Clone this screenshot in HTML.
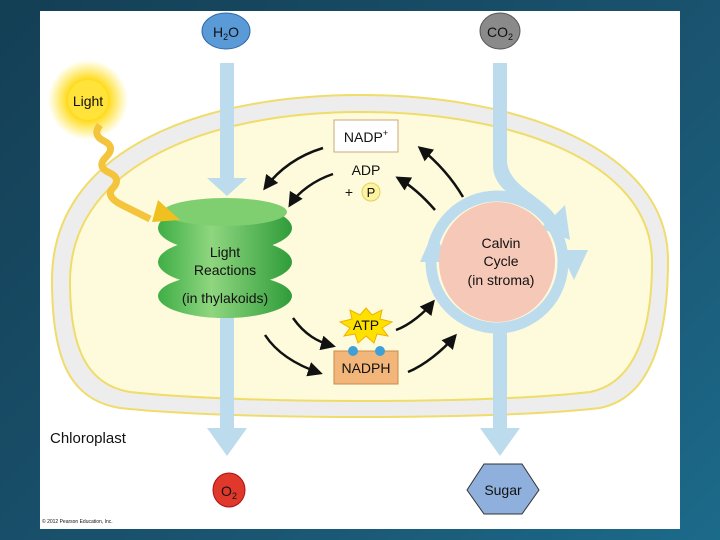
<!DOCTYPE html>
<html><head><style>
body{margin:0;width:720px;height:540px;overflow:hidden;background:linear-gradient(135deg,#143f55,#1a5470 60%,#1c6a8a);}
svg{position:absolute;left:0;top:0}
text{font-family:"Liberation Sans",sans-serif;fill:#111}
</style></head><body>
<svg width="720" height="540" viewBox="0 0 720 540">
<defs>
<radialGradient id="sun"><stop offset="0" stop-color="#fff27a"/><stop offset="0.45" stop-color="#ffd400"/><stop offset="1" stop-color="#ffe000" stop-opacity="0"/></radialGradient>
<linearGradient id="grn" x1="0" y1="0" x2="1" y2="0"><stop offset="0" stop-color="#3fae45"/><stop offset="0.4" stop-color="#8fd67f"/><stop offset="1" stop-color="#2f9c3a"/></linearGradient>
<marker id="ah" viewBox="0 0 10 10" refX="8" refY="5" markerWidth="6" markerHeight="6" orient="auto"><path d="M0,0L10,5L0,10z" fill="#111"/></marker>
</defs>
<rect x="40" y="11" width="640" height="518" fill="#fff"/>
<path d="M360,95 C520,95 668,150 668,260 C668,360 640,400 600,408 C500,420 230,420 120,408 C70,400 52,360 52,280 C52,150 200,95 360,95Z" fill="#ededed" stroke="#f0dc6a" stroke-width="2"/>
<path d="M360,112 C510,112 652,160 652,262 C652,350 625,385 590,392 C490,404 240,404 130,392 C88,385 70,350 70,282 C70,165 210,112 360,112Z" fill="#fdfbdc" stroke="#f0dc6a" stroke-width="2"/>
<path d="M220,63H234V178H247L227,196L207,178H220Z" fill="#bcdcee"/>
<path d="M220,300H234V428H247L227,456L207,428H220Z" fill="#bcdcee"/>
<path d="M493,63H507V160C507,185 540,195 555,215L565,205L570,240L540,228L548,222C530,202 493,195 493,165Z" fill="#bcdcee"/>
<circle cx="497" cy="262" r="66" fill="none" stroke="#bcdcee" stroke-width="11"/>
<path d="M420,262L434,230L448,262Z" fill="#bcdcee"/>
<path d="M560,250L574,280L588,250Z" fill="#bcdcee"/>
<path d="M493,325H507V428H520L500,456L480,428H493Z" fill="#bcdcee"/>
<ellipse cx="497" cy="262" rx="58" ry="60" fill="#f6c8b8"/>
<text x="501" y="248" font-size="14" text-anchor="middle">Calvin</text>
<text x="501" y="266" font-size="14" text-anchor="middle">Cycle</text>
<text x="501" y="285" font-size="14" text-anchor="middle">(in stroma)</text>
<ellipse cx="225" cy="296" rx="67" ry="22" fill="url(#grn)"/>
<ellipse cx="225" cy="262" rx="67" ry="24" fill="url(#grn)"/>
<ellipse cx="225" cy="228" rx="67" ry="24" fill="url(#grn)"/>
<ellipse cx="225" cy="212" rx="62" ry="14" fill="#7fcf70"/>
<text x="225" y="257" font-size="14" text-anchor="middle">Light</text>
<text x="225" y="275" font-size="14" text-anchor="middle">Reactions</text>
<text x="225" y="303" font-size="14" text-anchor="middle">(in thylakoids)</text>
<circle cx="88" cy="100" r="40" fill="url(#sun)"/>
<circle cx="88" cy="100" r="20" fill="#ffe23a"/>
<text x="88" y="106" font-size="14" text-anchor="middle">Light</text>
<path d="M100,125 q-8,10 4,16 q12,6 2,16 q-10,10 4,16 q12,6 2,16 q-6,8 10,16 l28,14" fill="none" stroke="#f3c43c" stroke-width="7"/>
<path d="M158,200L180,220L152,222Z" fill="#f0c020"/>
<ellipse cx="226" cy="31" rx="24" ry="18" fill="#5a9ad6" stroke="#2f6aa8"/>
<text x="226" y="37" font-size="14" text-anchor="middle">H<tspan font-size="9" dy="3">2</tspan><tspan dy="-3">O</tspan></text>
<ellipse cx="500" cy="31" rx="20" ry="18" fill="#8a8a8a" stroke="#555"/>
<text x="500" y="37" font-size="14" text-anchor="middle">CO<tspan font-size="9" dy="3">2</tspan></text>
<ellipse cx="229" cy="490" rx="16" ry="17" fill="#e0392c" stroke="#a11"/>
<text x="229" y="496" font-size="14" text-anchor="middle">O<tspan font-size="9" dy="3">2</tspan></text>
<path d="M467,490L484,464H522L539,490L522,514H484Z" fill="#8fb0dc" stroke="#333"/>
<text x="503" y="495" font-size="14" text-anchor="middle">Sugar</text>
<rect x="334" y="120" width="64" height="32" fill="#fff" stroke="#c9a877"/>
<text x="366" y="142" font-size="14" text-anchor="middle">NADP<tspan font-size="9" dy="-6">+</tspan></text>
<text x="366" y="175" font-size="14" text-anchor="middle">ADP</text>
<text x="349" y="197" font-size="14" text-anchor="middle">+</text>
<circle cx="371" cy="192" r="9" fill="#fdf3a0" stroke="#e2cf60"/>
<text x="371" y="197" font-size="13" text-anchor="middle">P</text>
<polygon points="366,308 372,315 382,310 380,319 392,322 382,328 388,336 377,334 374,343 366,336 358,343 355,334 344,336 350,328 340,322 352,319 350,310 360,315" fill="#ffe100" stroke="#f0b000"/>
<text x="366" y="330" font-size="14" text-anchor="middle">ATP</text>
<rect x="334" y="351" width="64" height="33" fill="#f2b67a" stroke="#c98a4a"/>
<circle cx="353" cy="351" r="5" fill="#3fa0d8"/><circle cx="380" cy="351" r="5" fill="#3fa0d8"/>
<text x="366" y="373" font-size="14" text-anchor="middle">NADPH</text>
<g fill="none" stroke="#111" stroke-width="2.5" marker-end="url(#ah)">
<path d="M323,148 C300,155 280,168 265,188"/>
<path d="M333,174 C315,180 298,192 290,205"/>
<path d="M463,197 C450,175 435,160 420,148"/>
<path d="M435,210 C422,195 410,185 398,178"/>
<path d="M293,318 C305,335 318,342 333,346"/>
<path d="M265,335 C280,358 305,368 320,373"/>
<path d="M396,330 C410,325 425,312 433,302"/>
<path d="M408,372 C425,365 443,350 455,336"/>
</g>
<text x="50" y="443" font-size="15">Chloroplast</text>
<text x="42" y="523" font-size="5" fill="#555">© 2012 Pearson Education, Inc.</text>
</svg>
</body></html>
